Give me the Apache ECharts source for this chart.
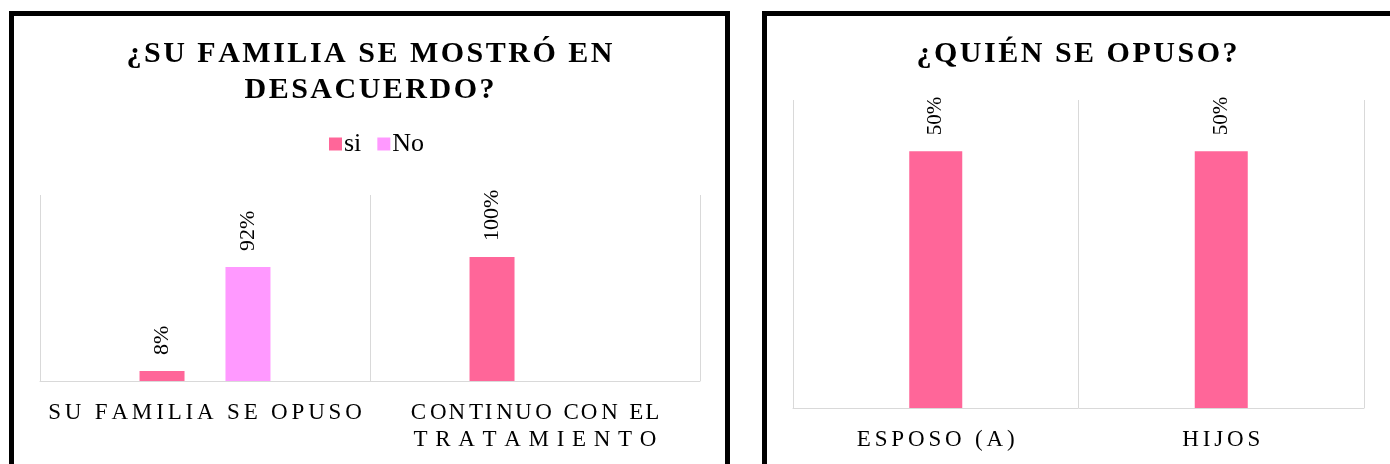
<!DOCTYPE html>
<html>
<head>
<meta charset="utf-8">
<script src="https://cdn.jsdelivr.net/npm/echarts@6/dist/echarts.min.js"></script>
<style>
  html, body { margin: 0; padding: 0; background: #fff; width: 1390px; height: 464px; overflow: hidden; }
  .panel { position: absolute; box-sizing: border-box; border: 5px solid #000; background: #fff; }
  #p1 { left: 9px; top: 11px; width: 721px; height: 480px; }
  #p2 { left: 762px; top: 11px; width: 640px; height: 480px; }
  #c1 { position: absolute; left: 0; top: 0; width: 711px; height: 448px; }
  #c2 { position: absolute; left: 0; top: 0; width: 620px; height: 448px; }
</style>
</head>
<body>
<div class="panel" id="p1"><div id="c1"></div></div>
<div class="panel" id="p2"><div id="c2"></div></div>
<script>
// ---- data ----
const leftTitle = '¿SU FAMILIA SE MOSTRÓ EN\nDESACUERDO?';
const leftCategories = ['SU FAMILIA SE OPUSO', 'CONTINUO CON EL\nTRATAMIENTO'];
const seriesNames = ['si', 'No'];
const siValues = [8, 100];
const noValues = [92, null];
const rightTitle = '¿QUIÉN SE OPUSO?';
const rightCategories = ['ESPOSO (A)', 'HIJOS'];
const rightValues = [50, 50];

// letter-spacing helper (inserts narrow spaces between letters)
const SIX = '\u2006', HAIR = '\u200A', THREE = '\u2004';
function spaced(s, seps) {
  const chars = Array.from(s);
  const list = Array.isArray(seps) ? seps : [seps];
  return chars.map((ch, i) => i < chars.length - 1 ? ch + list[i % list.length] : ch).join('');
}

const FONT = 'Liberation Serif';
const PINK = '#FF6699';
const LIGHT = '#FF99FF';

const c1 = echarts.init(document.getElementById('c1'));
c1.setOption({
  animation: false,
  title: {
    text: leftTitle.split('\n').map(l => spaced(l, HAIR)).join('\n'),
    left: 'center', top: 15,
    textStyle: { fontFamily: FONT, fontWeight: 'bold', fontSize: 30, lineHeight: 36, color: '#000' }
  },
  legend: {
    data: seriesNames, left: 310, top: 110, icon: 'rect', itemWidth: 13, itemHeight: 13, itemGap: 16,
    textStyle: { fontFamily: FONT, fontSize: 26, color: '#000', padding: [0, 0, 0, -3] }
  },
  grid: { left: 26, top: 179, width: 660, height: 186 },
  xAxis: {
    type: 'category', data: leftCategories,
    axisLine: { lineStyle: { color: '#d9d9d9', width: 1 } },
    axisTick: { show: false },
    splitLine: { show: true, interval: 0, lineStyle: { color: '#d9d9d9', width: 1 } },
    axisLabel: {
      interval: 0, margin: 18, color: '#000', fontFamily: FONT, fontSize: 23, lineHeight: 27,
      formatter: v => {
        const lines = v.split('\n');
        if (lines.length === 1) return spaced(v, SIX);
        return lines.map((l, i) => spaced(l, i === 0 ? [SIX, HAIR] : THREE)).join('\n');
      }
    }
  },
  yAxis: { type: 'value', min: 0, max: 150, show: false, splitLine: { show: false } },
  series: [
    { name: seriesNames[0], type: 'bar', data: siValues, barWidth: 45, barGap: '91%',
      itemStyle: { color: PINK },
      label: { show: true, position: 'top', rotate: 90, align: 'left', verticalAlign: 'middle', distance: 16,
        formatter: '{c}%', fontFamily: FONT, fontSize: 22, color: '#000' } },
    { name: seriesNames[1], type: 'bar', data: noValues, barWidth: 45,
      itemStyle: { color: LIGHT },
      label: { show: true, position: 'top', rotate: 90, align: 'left', verticalAlign: 'middle', distance: 16,
        formatter: '{c}%', fontFamily: FONT, fontSize: 22, color: '#000' } }
  ]
});

const c2 = echarts.init(document.getElementById('c2'));
c2.setOption({
  animation: false,
  title: {
    text: spaced(rightTitle, HAIR),
    left: 'center', top: 15,
    textStyle: { fontFamily: FONT, fontWeight: 'bold', fontSize: 30, lineHeight: 36, color: '#000' }
  },
  grid: { left: 26, top: 84, width: 571, height: 308 },
  xAxis: {
    type: 'category', data: rightCategories,
    axisLine: { lineStyle: { color: '#d9d9d9', width: 1 } },
    axisTick: { show: false },
    splitLine: { show: true, interval: 0, lineStyle: { color: '#d9d9d9', width: 1 } },
    axisLabel: {
      interval: 0, margin: 18, color: '#000', fontFamily: FONT, fontSize: 23, lineHeight: 27,
      formatter: v => spaced(v, SIX)
    }
  },
  yAxis: { type: 'value', min: 0, max: 60, show: false, splitLine: { show: false } },
  series: [
    { name: 'Serie', type: 'bar', data: rightValues, barWidth: 53,
      itemStyle: { color: PINK },
      label: { show: true, position: 'top', rotate: 90, align: 'left', verticalAlign: 'middle', distance: 16,
        formatter: '{c}%', fontFamily: FONT, fontSize: 21, color: '#000' } }
  ]
});
</script>
</body>
</html>
